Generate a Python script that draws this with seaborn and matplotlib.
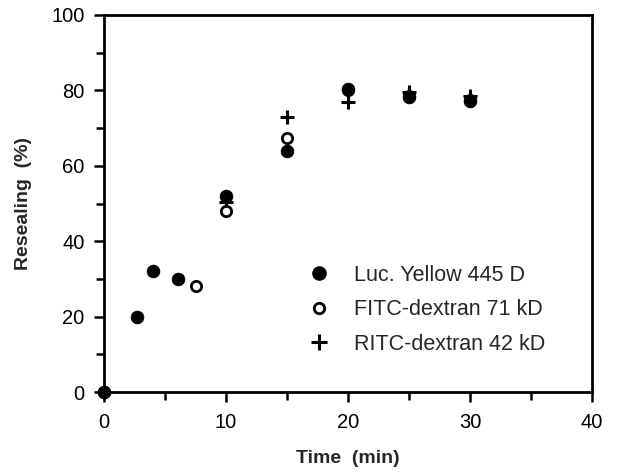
import matplotlib
matplotlib.use("Agg")
import matplotlib.pyplot as plt
import seaborn as sns
import pandas as pd
from matplotlib.lines import Line2D

sns.set_theme(style="ticks")
plt.rcParams['font.family'] = ['Liberation Sans', 'DejaVu Sans']

# Data
lucifer_time = [0, 2.7, 4, 6.1, 10, 15, 20, 25, 30]
lucifer_val = [0, 20, 32, 30, 52, 64, 80.5, 78.3, 77.3]

fitc_time = [0, 7.5, 10, 15, 20, 25, 30]
fitc_val = [0, 28.2, 48, 67.5, 80, 78.5, 77.5]

ritc_time = [0, 10, 15, 20, 25, 30]
ritc_val = [0, 50.5, 73, 77, 79.5, 78.5]

series_labels = ["Luc. Yellow 445 D", "FITC-dextran 71 kD", "RITC-dextran 42 kD"]
x_ticks = [0, 10, 20, 30, 40]
y_ticks = [0, 20, 40, 60, 80, 100]

df_l = pd.DataFrame({"t": lucifer_time, "v": lucifer_val})
df_f = pd.DataFrame({"t": fitc_time, "v": fitc_val})
df_r = pd.DataFrame({"t": ritc_time, "v": ritc_val})

fig = plt.figure(figsize=(6.43, 4.75), dpi=100)
ax = fig.add_axes([104/643, 1-392/475, (592-104)/643, (392-15)/475])

sns.scatterplot(data=df_r, x="t", y="v", ax=ax, marker="+", s=110, color="black",
                linewidth=2.2, zorder=3, clip_on=False)
sns.scatterplot(data=df_f, x="t", y="v", ax=ax, marker="o", s=55, facecolor="white",
                edgecolor="black", linewidth=2.0, zorder=4, clip_on=False)
sns.scatterplot(data=df_l, x="t", y="v", ax=ax, marker="o", s=85, color="black",
                edgecolor="black", linewidth=0.5, zorder=5, clip_on=False)

ax.set_xlim(0, 40)
ax.set_ylim(0, 100)
ax.set_xticks(x_ticks)
ax.set_yticks(y_ticks)
ax.set_xticks([5, 15, 25, 35], minor=True)
ax.set_yticks([10, 30, 50, 70, 90], minor=True)
ax.tick_params(axis="both", which="major", direction="out", length=7, width=1.8,
               color="black", labelsize=14.5, labelcolor="black")
ax.tick_params(axis="both", which="minor", direction="out", length=5.5, width=1.8,
               color="black")
ax.tick_params(axis="x", which="major", pad=8)
ax.tick_params(axis="y", which="major", pad=7)

for sp in ax.spines.values():
    sp.set_visible(True)
    sp.set_linewidth(2.0)
    sp.set_color("black")

ax.set_xlabel("Time  (min)", fontsize=14, fontweight="bold", labelpad=13)
ax.set_ylabel("Resealing  (%)", fontsize=14, fontweight="bold", labelpad=14)

handles = [
    Line2D([], [], linestyle="none", marker="o", markersize=9.5, color="black"),
    Line2D([], [], linestyle="none", marker="o", markersize=7.5, markerfacecolor="white",
           markeredgecolor="black", markeredgewidth=2.0),
    Line2D([], [], linestyle="none", marker="+", markersize=11, color="black",
           markeredgewidth=2.2),
]
ax.legend(handles, series_labels, frameon=False, fontsize=15.5,
          loc="upper left", bbox_to_anchor=(0.397, 0.36), handletextpad=1.0,
          labelspacing=0.62, handlelength=1.2, borderaxespad=0)

fig.savefig("out.png", dpi=100)
